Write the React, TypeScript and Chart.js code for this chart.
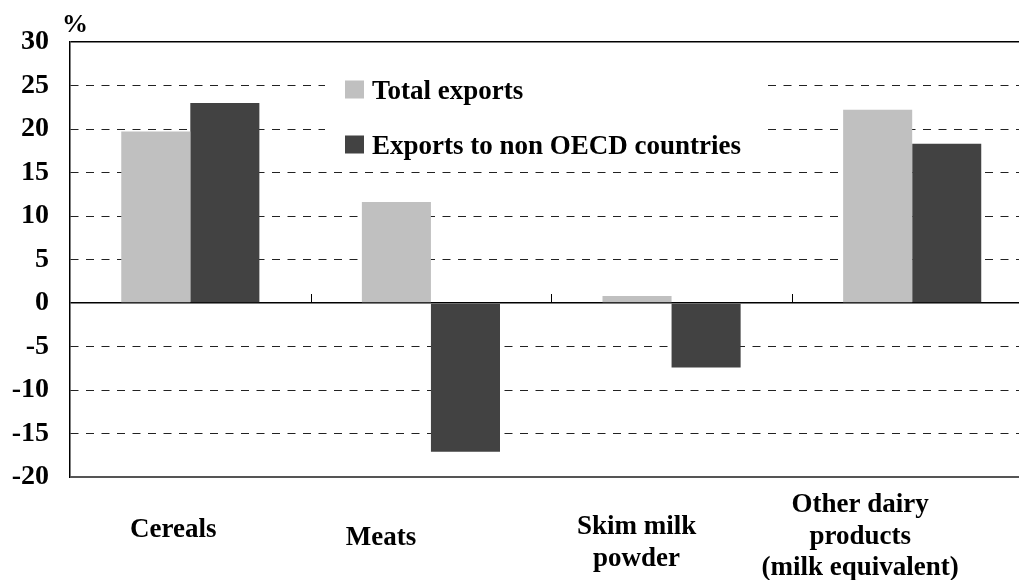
import React, { useEffect, useRef } from "react";
import { Chart, registerables } from "chart.js";

Chart.register(...registerables);

// ---- data ----
const categories: string[][] = [
  ["Cereals"],
  ["Meats"],
  ["Skim milk", "powder"],
  ["Other dairy", "products", "(milk equivalent)"],
];
const seriesNames = ["Total exports", "Exports to non OECD countries"];
const totalExports = [19.7, 11.6, 0.8, 22.2];
const nonOecdExports = [23.0, -17.1, -7.4, 18.3];
const yTickValues = [-20, -15, -10, -5, 0, 5, 10, 15, 20, 25, 30];
const unitLabel = "%";

// ---- layout / style (not data) ----
const CANVAS_W = 1040;
const CANVAS_H = 580;
const FONT = '"Liberation Serif", "Times New Roman", serif';
const LIGHT = "#c0c0c0";
const DARK = "#424242";
// shift of each category label from its category centre (x) and first baseline below plot bottom (y)
const labelDx = [-17, -50, -35, -52];
const labelDy = [60, 68, 57, 35];
const LINE_H = 31.5;

const overlayPlugin = {
  id: "overlay",
  afterDraw(chart: any) {
    const { ctx, chartArea } = chart;
    const xs = chart.scales.x;
    const ys = chart.scales.y;
    ctx.save();

    // tick marks on the zero line at category boundaries
    const y0 = ys.getPixelForValue(0);
    ctx.strokeStyle = "#000";
    ctx.lineWidth = 1;
    ctx.beginPath();
    for (let i = 0; i < categories.length - 1; i++) {
      const bx = (xs.getPixelForValue(i) + xs.getPixelForValue(i + 1)) / 2;
      ctx.moveTo(Math.round(bx) + 0.5, y0);
      ctx.lineTo(Math.round(bx) + 0.5, y0 - 9);
    }
    ctx.stroke();

    // unit label
    ctx.fillStyle = "#000";
    ctx.font = `bold 26px ${FONT}`;
    ctx.textAlign = "left";
    ctx.textBaseline = "alphabetic";
    ctx.fillText(unitLabel, chartArea.left - 8, chartArea.top - 10);

    // category labels
    ctx.font = `bold 27px ${FONT}`;
    ctx.textAlign = "center";
    categories.forEach((lines, i) => {
      const cx = xs.getPixelForValue(i) + labelDx[i];
      lines.forEach((ln, j) => {
        ctx.fillText(ln, cx, chartArea.bottom + labelDy[i] + j * LINE_H);
      });
    });

    // legend
    const boxL = chartArea.left + 255;
    const boxT = chartArea.top + 28;
    ctx.fillStyle = "#fff";
    ctx.fillRect(boxL, boxT, 443, 92);
    const lx = chartArea.left + 275;
    const firstBase = chartArea.top + 56.5;
    ctx.font = `bold 27px ${FONT}`;
    ctx.textAlign = "left";
    chart.data.datasets.forEach((ds: any, i: number) => {
      const base = firstBase + i * 55;
      ctx.fillStyle = ds.backgroundColor;
      ctx.fillRect(lx, base - 18, 19, 18);
      ctx.fillStyle = "#000";
      ctx.fillText(ds.label, lx + 27, base);
    });

    ctx.restore();
  },
};

export default function App() {
  const canvasRef = useRef<HTMLCanvasElement | null>(null);

  useEffect(() => {
    if (!canvasRef.current) return;
    const chart = new Chart(canvasRef.current, {
      type: "bar",
      data: {
        labels: categories.map((c) => c.join(" ")),
        datasets: [
          {
            label: seriesNames[0],
            data: totalExports,
            backgroundColor: LIGHT,
            borderWidth: 0,
            categoryPercentage: 0.574,
            barPercentage: 1.0,
          },
          {
            label: seriesNames[1],
            data: nonOecdExports,
            backgroundColor: DARK,
            borderWidth: 0,
            categoryPercentage: 0.574,
            barPercentage: 1.0,
          },
        ],
      },
      options: {
        animation: false,
        responsive: true,
        maintainAspectRatio: false,
        layout: {
          padding: { left: 0, right: CANVAS_W - 1032.5, top: 42, bottom: 103 },
        },
        plugins: {
          legend: { display: false },
          tooltip: { enabled: false },
        },
        scales: {
          x: {
            display: false,
            offset: true,
          },
          y: {
            min: -20,
            max: 30,
            afterFit: (s: any) => {
              s.width = 70;
            },
            afterBuildTicks: (s: any) => {
              s.ticks = yTickValues.map((v) => ({ value: v }));
            },
            ticks: {
              padding: 21,
              color: "#000",
              font: { family: FONT, size: 28, weight: "bold" },
              callback: (v: any) => String(v),
            },
            border: {
              display: true,
              color: "#000",
              width: 1.5,
              dash: (c: any) => {
                const v = c.tick ? c.tick.value : undefined;
                if (v === undefined || v === 0 || v === 30 || v === -20) return [];
                return [8, 7.5];
              },
            },
            grid: {
              drawTicks: false,
              color: (c: any) => {
                const v = c.tick ? c.tick.value : undefined;
                if (v === -20) return "#555";
                if (v === 0 || v === 30) return "#000";
                return "#222";
              },
              lineWidth: (c: any) => {
                const v = c.tick ? c.tick.value : undefined;
                if (v === -20) return 2;
                if (v === 0 || v === 30) return 1.5;
                return 1;
              },
            },
          },
        },
      },
      plugins: [overlayPlugin],
    });
    return () => chart.destroy();
  }, []);

  return (
    <div
      style={{
        position: "fixed",
        left: 0,
        top: 0,
        width: CANVAS_W,
        height: CANVAS_H,
        background: "#fff",
      }}
    >
      <canvas ref={canvasRef} />
    </div>
  );
}
